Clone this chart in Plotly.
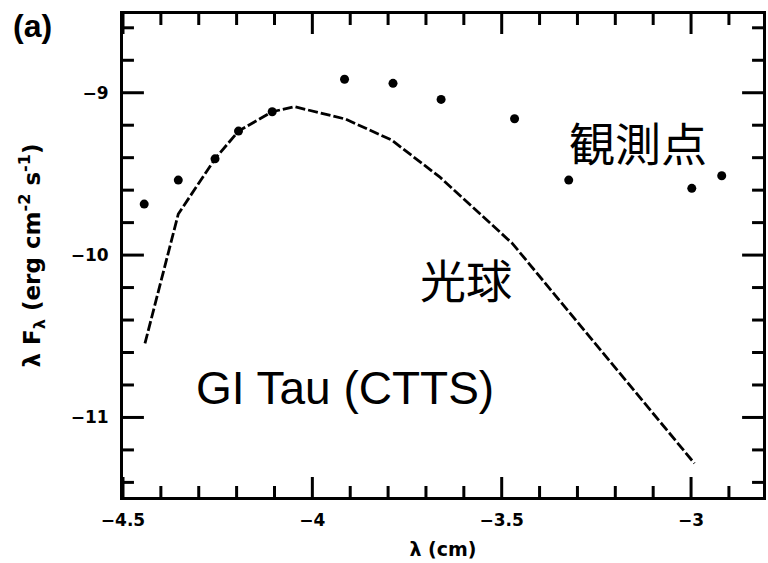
import numpy as np
import plotly.graph_objects as go

# Observed spectral energy distribution of GI Tau (log lambda [cm], log lambda*F_lambda)
obs_lambda = [-4.444, -4.354, -4.257, -4.195, -4.106, -3.915, -3.787, -3.660, -3.466, -3.323, -2.998, -2.919]
obs_flux = [-9.686, -9.538, -9.407, -9.236, -9.117, -8.917, -8.942, -9.041, -9.160, -9.538, -9.589, -9.511]

# Photosphere model
model_lambda = [-4.442, -4.354, -4.257, -4.195, -4.106, -4.047, -3.913, -3.791, -3.664, -3.472, -2.991]
model_flux = [-10.544, -9.747, -9.407, -9.236, -9.117, -9.086, -9.162, -9.291, -9.518, -9.928, -11.283]

x_range = [-4.5, -2.81]
y_range = [-11.49, -8.515]
x_major, x_minor_step = 0.5, 0.1
y_major, y_minor_step = 1.0, 0.2

label_font = "Liberation Sans, Noto Sans CJK JP, Arial, sans-serif"
axis_font = "DejaVu Sans, Arial, sans-serif"

W, H = 768, 563
M = dict(l=123, r=2, t=14, b=66)
plot_w = W - M["l"] - M["r"]
plot_h = H - M["t"] - M["b"]
x_per_px = (x_range[1] - x_range[0]) / plot_w
y_per_px = (y_range[1] - y_range[0]) / plot_h

fig = go.Figure()

fig.add_trace(go.Scatter(
    x=model_lambda, y=model_flux, mode="lines",
    line=dict(color="black", width=2.8, dash="10px,3px"),
    showlegend=False, hoverinfo="skip",
))
fig.add_trace(go.Scatter(
    x=obs_lambda, y=obs_flux, mode="markers",
    marker=dict(color="black", size=9),
    showlegend=False,
))


# Inward tick marks on all four sides of the frame
def tick_positions(lo, hi, step):
    start = np.ceil(lo / step - 1e-9) * step
    return [round(v, 6) for v in np.arange(start, hi + 1e-9, step)]


def is_major(v, step):
    return abs(v / step - round(v / step)) < 1e-6


tx, ty = [], []
for v in tick_positions(x_range[0], x_range[1], x_minor_step):
    length = (20 if is_major(v, x_major) else 11) * y_per_px
    tx += [v, v, None, v, v, None]
    ty += [y_range[0], y_range[0] + length, None, y_range[1], y_range[1] - length, None]
for v in tick_positions(y_range[0], y_range[1], y_minor_step):
    length = (21 if is_major(v, y_major) else 11) * x_per_px
    tx += [x_range[0], x_range[0] + length, None, x_range[1], x_range[1] - length, None]
    ty += [v, v, None, v, v, None]
fig.add_trace(go.Scatter(
    x=tx, y=ty, mode="lines", line=dict(color="black", width=3),
    showlegend=False, hoverinfo="skip", cliponaxis=False,
))

axis_common = dict(
    showgrid=False, zeroline=False,
    showline=True, linecolor="black", linewidth=3, mirror=True,
    ticks="",
    tickfont=dict(family=axis_font, size=17, color="black", weight="bold"),
)

fig.update_xaxes(
    range=x_range, tickmode="linear", tick0=-4.5, dtick=x_major,
    ticklabelstandoff=6,
    title=dict(text="<b>λ (cm)</b>", standoff=14,
               font=dict(family=axis_font, size=19, color="black")),
    **axis_common,
)
fig.update_yaxes(
    range=y_range, tickmode="linear", tick0=-11, dtick=y_major,
    ticklabelstandoff=8,
    title=dict(text="<b>λ F<sub>λ</sub> (erg cm<sup>-2</sup> s<sup>-1</sup>)</b>", standoff=24,
               font=dict(family=axis_font, size=23, color="black")),
    **axis_common,
)

annotations = [
    dict(text="<b>(a)</b>", xref="paper", yref="paper", x=-0.141, y=0.975,
         font=dict(family=label_font, size=32, color="black")),
    dict(text="観測点", xref="x", yref="y", x=-3.139, y=-9.322,
         font=dict(family=label_font, size=46, color="black")),
    dict(text="光球", xref="x", yref="y", x=-3.595, y=-10.166,
         font=dict(family=label_font, size=46, color="black")),
    dict(text="GI Tau (CTTS)", xref="x", yref="y", x=-3.915, y=-10.819,
         font=dict(family=label_font, size=46, color="black")),
]
for a in annotations:
    a.update(showarrow=False, xanchor="center", yanchor="middle")

fig.update_layout(
    width=W, height=H, margin=M,
    paper_bgcolor="white", plot_bgcolor="white",
    annotations=annotations,
)

fig.write_html("out.html")
